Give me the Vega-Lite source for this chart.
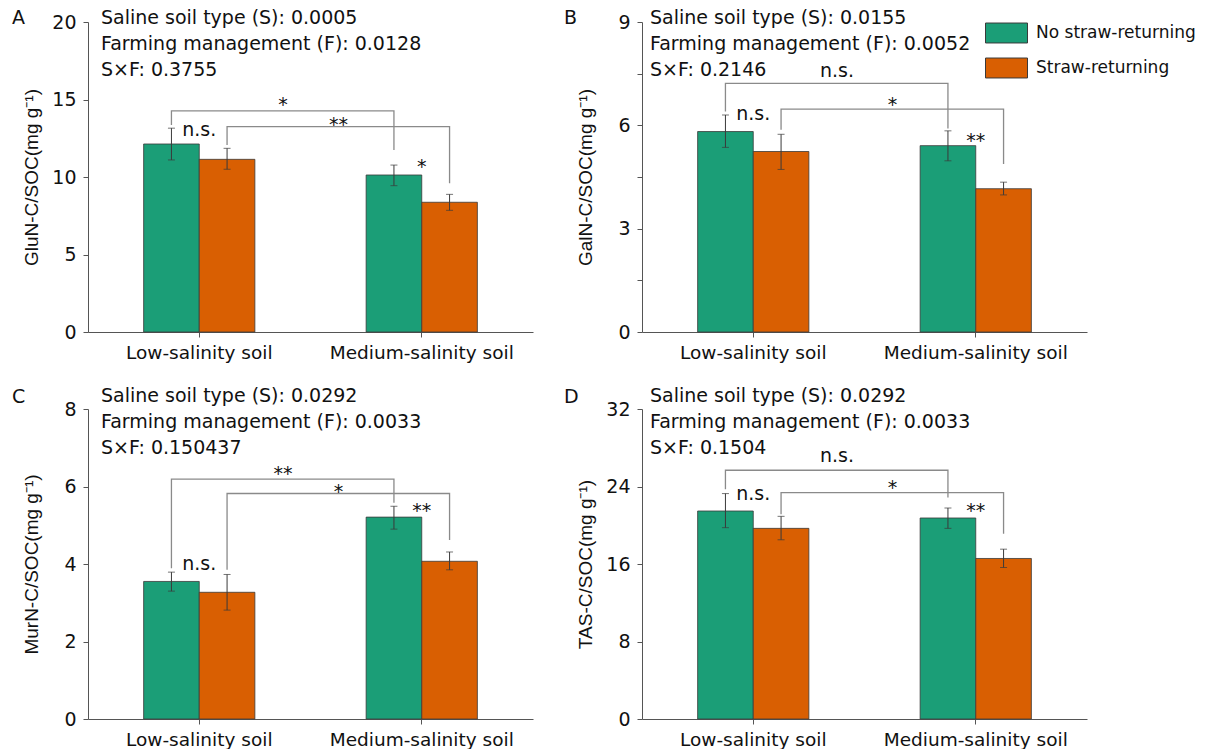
{
  "$schema": "https://vega.github.io/schema/vega-lite/v6.json",
  "autosize": {"type": "pad"},
  "padding": {"left": 12, "top": 8, "right": 5, "bottom": 0},
  "background": "white",
  "columns": 2,
  "spacing": {"row": 77, "column": 109},
  "bounds": "flush",
  "resolve": {"legend": {"color": "independent"}},
  "datasets": {
    "bars": [
      {"panel": "A", "soil": "Low-salinity soil", "treatment": "No straw-returning", "value": 12.13, "lo": 11.10, "hi": 13.15},
      {"panel": "A", "soil": "Low-salinity soil", "treatment": "Straw-returning", "value": 11.14, "lo": 10.50, "hi": 11.85},
      {"panel": "A", "soil": "Medium-salinity soil", "treatment": "No straw-returning", "value": 10.13, "lo": 9.44, "hi": 10.77},
      {"panel": "A", "soil": "Medium-salinity soil", "treatment": "Straw-returning", "value": 8.37, "lo": 7.85, "hi": 8.88},
      {"panel": "B", "soil": "Low-salinity soil", "treatment": "No straw-returning", "value": 5.82, "lo": 5.36, "hi": 6.30},
      {"panel": "B", "soil": "Low-salinity soil", "treatment": "Straw-returning", "value": 5.24, "lo": 4.72, "hi": 5.74},
      {"panel": "B", "soil": "Medium-salinity soil", "treatment": "No straw-returning", "value": 5.41, "lo": 4.97, "hi": 5.84},
      {"panel": "B", "soil": "Medium-salinity soil", "treatment": "Straw-returning", "value": 4.16, "lo": 3.98, "hi": 4.35},
      {"panel": "C", "soil": "Low-salinity soil", "treatment": "No straw-returning", "value": 3.55, "lo": 3.30, "hi": 3.79},
      {"panel": "C", "soil": "Low-salinity soil", "treatment": "Straw-returning", "value": 3.27, "lo": 2.81, "hi": 3.73},
      {"panel": "C", "soil": "Medium-salinity soil", "treatment": "No straw-returning", "value": 5.21, "lo": 4.90, "hi": 5.49},
      {"panel": "C", "soil": "Medium-salinity soil", "treatment": "Straw-returning", "value": 4.07, "lo": 3.85, "hi": 4.31},
      {"panel": "D", "soil": "Low-salinity soil", "treatment": "No straw-returning", "value": 21.47, "lo": 19.75, "hi": 23.27},
      {"panel": "D", "soil": "Low-salinity soil", "treatment": "Straw-returning", "value": 19.68, "lo": 18.50, "hi": 20.92},
      {"panel": "D", "soil": "Medium-salinity soil", "treatment": "No straw-returning", "value": 20.75, "lo": 19.68, "hi": 21.78},
      {"panel": "D", "soil": "Medium-salinity soil", "treatment": "Straw-returning", "value": 16.57, "lo": 15.64, "hi": 17.53}
    ],
    "brackets": [
      {"panel": "A", "bracket": "No", "seq": 1, "soil": "Low-salinity soil", "treatment": "No straw-returning", "y": 13.35},
      {"panel": "A", "bracket": "No", "seq": 2, "soil": "Low-salinity soil", "treatment": "No straw-returning", "y": 14.26},
      {"panel": "A", "bracket": "No", "seq": 3, "soil": "Medium-salinity soil", "treatment": "No straw-returning", "y": 14.26},
      {"panel": "A", "bracket": "No", "seq": 4, "soil": "Medium-salinity soil", "treatment": "No straw-returning", "y": 11.74},
      {"panel": "A", "bracket": "St", "seq": 1, "soil": "Low-salinity soil", "treatment": "Straw-returning", "y": 12.06},
      {"panel": "A", "bracket": "St", "seq": 2, "soil": "Low-salinity soil", "treatment": "Straw-returning", "y": 13.25},
      {"panel": "A", "bracket": "St", "seq": 3, "soil": "Medium-salinity soil", "treatment": "Straw-returning", "y": 13.25},
      {"panel": "A", "bracket": "St", "seq": 4, "soil": "Medium-salinity soil", "treatment": "Straw-returning", "y": 9.59},
      {"panel": "B", "bracket": "No", "seq": 1, "soil": "Low-salinity soil", "treatment": "No straw-returning", "y": 6.40},
      {"panel": "B", "bracket": "No", "seq": 2, "soil": "Low-salinity soil", "treatment": "No straw-returning", "y": 7.22},
      {"panel": "B", "bracket": "No", "seq": 3, "soil": "Medium-salinity soil", "treatment": "No straw-returning", "y": 7.22},
      {"panel": "B", "bracket": "No", "seq": 4, "soil": "Medium-salinity soil", "treatment": "No straw-returning", "y": 5.91},
      {"panel": "B", "bracket": "St", "seq": 1, "soil": "Low-salinity soil", "treatment": "Straw-returning", "y": 5.87},
      {"panel": "B", "bracket": "St", "seq": 2, "soil": "Low-salinity soil", "treatment": "Straw-returning", "y": 6.47},
      {"panel": "B", "bracket": "St", "seq": 3, "soil": "Medium-salinity soil", "treatment": "Straw-returning", "y": 6.47},
      {"panel": "B", "bracket": "St", "seq": 4, "soil": "Medium-salinity soil", "treatment": "Straw-returning", "y": 4.88},
      {"panel": "C", "bracket": "No", "seq": 1, "soil": "Low-salinity soil", "treatment": "No straw-returning", "y": 3.89},
      {"panel": "C", "bracket": "No", "seq": 2, "soil": "Low-salinity soil", "treatment": "No straw-returning", "y": 6.19},
      {"panel": "C", "bracket": "No", "seq": 3, "soil": "Medium-salinity soil", "treatment": "No straw-returning", "y": 6.19},
      {"panel": "C", "bracket": "No", "seq": 4, "soil": "Medium-salinity soil", "treatment": "No straw-returning", "y": 5.58},
      {"panel": "C", "bracket": "St", "seq": 1, "soil": "Low-salinity soil", "treatment": "Straw-returning", "y": 3.85},
      {"panel": "C", "bracket": "St", "seq": 2, "soil": "Low-salinity soil", "treatment": "Straw-returning", "y": 5.82},
      {"panel": "C", "bracket": "St", "seq": 3, "soil": "Medium-salinity soil", "treatment": "Straw-returning", "y": 5.82},
      {"panel": "C", "bracket": "St", "seq": 4, "soil": "Medium-salinity soil", "treatment": "Straw-returning", "y": 4.62},
      {"panel": "D", "bracket": "No", "seq": 1, "soil": "Low-salinity soil", "treatment": "No straw-returning", "y": 23.72},
      {"panel": "D", "bracket": "No", "seq": 2, "soil": "Low-salinity soil", "treatment": "No straw-returning", "y": 25.68},
      {"panel": "D", "bracket": "No", "seq": 3, "soil": "Medium-salinity soil", "treatment": "No straw-returning", "y": 25.68},
      {"panel": "D", "bracket": "No", "seq": 4, "soil": "Medium-salinity soil", "treatment": "No straw-returning", "y": 22.86},
      {"panel": "D", "bracket": "St", "seq": 1, "soil": "Low-salinity soil", "treatment": "Straw-returning", "y": 21.13},
      {"panel": "D", "bracket": "St", "seq": 2, "soil": "Low-salinity soil", "treatment": "Straw-returning", "y": 23.37},
      {"panel": "D", "bracket": "St", "seq": 3, "soil": "Medium-salinity soil", "treatment": "Straw-returning", "y": 23.37},
      {"panel": "D", "bracket": "St", "seq": 4, "soil": "Medium-salinity soil", "treatment": "Straw-returning", "y": 19.13}
    ],
    "sig": [
      {"panel": "A", "kind": "bracket", "soil": "Medium-salinity soil", "treatment": "No straw-returning", "y": 14.26, "label": "*"},
      {"panel": "A", "kind": "bracket", "soil": "Medium-salinity soil", "treatment": "Straw-returning", "y": 12.97, "label": "**"},
      {"panel": "A", "kind": "within", "soil": "Low-salinity soil", "y": 12.66, "label": "n.s."},
      {"panel": "A", "kind": "within", "soil": "Medium-salinity soil", "y": 10.26, "label": "*"},
      {"panel": "B", "kind": "bracket", "soil": "Medium-salinity soil", "treatment": "No straw-returning", "y": 7.41, "label": "n.s."},
      {"panel": "B", "kind": "bracket", "soil": "Medium-salinity soil", "treatment": "Straw-returning", "y": 6.42, "label": "*"},
      {"panel": "B", "kind": "within", "soil": "Low-salinity soil", "y": 6.16, "label": "n.s."},
      {"panel": "B", "kind": "within", "soil": "Medium-salinity soil", "y": 5.38, "label": "**"},
      {"panel": "C", "kind": "bracket", "soil": "Medium-salinity soil", "treatment": "No straw-returning", "y": 6.16, "label": "**"},
      {"panel": "C", "kind": "bracket", "soil": "Medium-salinity soil", "treatment": "Straw-returning", "y": 5.70, "label": "*"},
      {"panel": "C", "kind": "within", "soil": "Low-salinity soil", "y": 3.85, "label": "n.s."},
      {"panel": "C", "kind": "within", "soil": "Medium-salinity soil", "y": 5.22, "label": "**"},
      {"panel": "D", "kind": "bracket", "soil": "Medium-salinity soil", "treatment": "No straw-returning", "y": 26.48, "label": "n.s."},
      {"panel": "D", "kind": "bracket", "soil": "Medium-salinity soil", "treatment": "Straw-returning", "y": 23.27, "label": "*"},
      {"panel": "D", "kind": "within", "soil": "Low-salinity soil", "y": 22.61, "label": "n.s."},
      {"panel": "D", "kind": "within", "soil": "Medium-salinity soil", "y": 20.85, "label": "**"}
    ],
    "notes": [
      {"panel": "A", "soil": "Low-salinity soil", "note": "Saline soil type (S): 0.0005\nFarming management (F): 0.0128\nS×F: 0.3755"},
      {"panel": "B", "soil": "Low-salinity soil", "note": "Saline soil type (S): 0.0155\nFarming management (F): 0.0052\nS×F: 0.2146"},
      {"panel": "C", "soil": "Low-salinity soil", "note": "Saline soil type (S): 0.0292\nFarming management (F): 0.0033\nS×F: 0.150437"},
      {"panel": "D", "soil": "Low-salinity soil", "note": "Saline soil type (S): 0.0292\nFarming management (F): 0.0033\nS×F: 0.1504"}
    ]
  },
  "concat": [
    {
      "width": 445, "height": 310,
      "title": {"text": "A", "anchor": "start", "frame": "group", "dx": -76, "dy": 18.5, "offset": 0},
      "layer": [
        {"data": {"name": "bars"}, "transform": [{"filter": "datum.panel === 'A'"}],
         "mark": {"type": "bar", "stroke": "#3a3a3a", "strokeWidth": 0.8},
         "encoding": {
           "x": {"field": "soil", "type": "nominal", "scale": {"domain": ["Low-salinity soil", "Medium-salinity soil"], "paddingInner": 0, "paddingOuter": 0}, "axis": {"title": null, "labelAngle": 0}},
           "xOffset": {"field": "treatment", "type": "nominal", "scale": {"domain": ["No straw-returning", "Straw-returning"], "paddingInner": 0, "paddingOuter": 1}},
           "y": {"field": "value", "type": "quantitative", "scale": {"domain": [0, 20], "nice": false}, "axis": {"title": "GluN-C/SOC(mg g⁻¹)", "values": [0, 2.5, 5, 7.5, 10, 12.5, 15, 17.5, 20], "labelExpr": "datum.value % 5 === 0 ? datum.label : ''"}},
           "color": {"field": "treatment", "type": "nominal", "scale": {"domain": ["No straw-returning", "Straw-returning"], "range": ["#1b9e77", "#d95f02"]}, "legend": null}
         }},
        {"data": {"name": "bars"}, "transform": [{"filter": "datum.panel === 'A'"}],
         "mark": {"type": "rule", "color": "#3a3a3a", "strokeWidth": 1},
         "encoding": {"x": {"field": "soil", "type": "nominal"}, "xOffset": {"field": "treatment", "type": "nominal"}, "y": {"field": "lo", "type": "quantitative"}, "y2": {"field": "hi"}}},
        {"data": {"name": "bars"}, "transform": [{"filter": "datum.panel === 'A'"}],
         "mark": {"type": "tick", "orient": "horizontal", "size": 7, "thickness": 1, "color": "#3a3a3a"},
         "encoding": {"x": {"field": "soil", "type": "nominal"}, "xOffset": {"field": "treatment", "type": "nominal"}, "y": {"field": "lo", "type": "quantitative"}}},
        {"data": {"name": "bars"}, "transform": [{"filter": "datum.panel === 'A'"}],
         "mark": {"type": "tick", "orient": "horizontal", "size": 7, "thickness": 1, "color": "#3a3a3a"},
         "encoding": {"x": {"field": "soil", "type": "nominal"}, "xOffset": {"field": "treatment", "type": "nominal"}, "y": {"field": "hi", "type": "quantitative"}}},
        {"data": {"name": "brackets"}, "transform": [{"filter": "datum.panel === 'A'"}],
         "mark": {"type": "line", "color": "#8a8a8a", "strokeWidth": 1.3},
         "encoding": {"x": {"field": "soil", "type": "nominal"}, "xOffset": {"field": "treatment", "type": "nominal"}, "y": {"field": "y", "type": "quantitative"}, "detail": {"field": "bracket"}, "order": {"field": "seq", "type": "quantitative"}}},
        {"data": {"name": "sig"}, "transform": [{"filter": "datum.panel === 'A' && datum.kind === 'bracket'"}],
         "mark": {"type": "text", "baseline": "alphabetic", "dx": -111},
         "encoding": {"x": {"field": "soil", "type": "nominal"}, "xOffset": {"field": "treatment", "type": "nominal"}, "y": {"field": "y", "type": "quantitative"}, "text": {"field": "label"}}},
        {"data": {"name": "sig"}, "transform": [{"filter": "datum.panel === 'A' && datum.kind === 'within'"}],
         "mark": {"type": "text", "baseline": "alphabetic"},
         "encoding": {"x": {"field": "soil", "type": "nominal"}, "y": {"field": "y", "type": "quantitative"}, "text": {"field": "label"}}},
        {"data": {"name": "notes"}, "transform": [{"filter": "datum.panel === 'A'"}],
         "mark": {"type": "text", "align": "left", "baseline": "alphabetic", "lineBreak": "\n", "lineHeight": 26, "dx": 13, "dy": 2},
         "encoding": {"x": {"field": "soil", "type": "nominal", "bandPosition": 0}, "y": {"datum": 20, "type": "quantitative"}, "text": {"field": "note"}}}
      ]
    },
    {
      "width": 445, "height": 310,
      "title": {"text": "B", "anchor": "start", "frame": "group", "dx": -78, "dy": 18.5, "offset": 0},
      "layer": [
        {"data": {"name": "bars"}, "transform": [{"filter": "datum.panel === 'B'"}],
         "mark": {"type": "bar", "stroke": "#3a3a3a", "strokeWidth": 0.8},
         "encoding": {
           "x": {"field": "soil", "type": "nominal", "scale": {"domain": ["Low-salinity soil", "Medium-salinity soil"], "paddingInner": 0, "paddingOuter": 0}, "axis": {"title": null, "labelAngle": 0}},
           "xOffset": {"field": "treatment", "type": "nominal", "scale": {"domain": ["No straw-returning", "Straw-returning"], "paddingInner": 0, "paddingOuter": 1}},
           "y": {"field": "value", "type": "quantitative", "scale": {"domain": [0, 9], "nice": false}, "axis": {"title": "GalN-C/SOC(mg g⁻¹)", "values": [0, 1.5, 3, 4.5, 6, 7.5, 9], "labelExpr": "datum.value % 3 === 0 ? datum.label : ''"}},
           "color": {"field": "treatment", "type": "nominal", "scale": {"domain": ["No straw-returning", "Straw-returning"], "range": ["#1b9e77", "#d95f02"]},
             "legend": {"orient": "none", "legendX": 353.5, "legendY": 0, "title": null, "symbolType": "M-2,-0.95H2V0.95H-2Z", "symbolSize": 441, "symbolStrokeColor": "#3a3a3a", "symbolStrokeWidth": 1, "symbolOpacity": 1, "labelFont": "DejaVu Sans", "labelFontSize": 17, "labelLimit": 0, "labelColor": "#111111", "labelOffset": 18.5, "rowPadding": 11, "padding": 0}}
         }},
        {"data": {"name": "bars"}, "transform": [{"filter": "datum.panel === 'B'"}],
         "mark": {"type": "rule", "color": "#3a3a3a", "strokeWidth": 1},
         "encoding": {"x": {"field": "soil", "type": "nominal"}, "xOffset": {"field": "treatment", "type": "nominal"}, "y": {"field": "lo", "type": "quantitative"}, "y2": {"field": "hi"}}},
        {"data": {"name": "bars"}, "transform": [{"filter": "datum.panel === 'B'"}],
         "mark": {"type": "tick", "orient": "horizontal", "size": 7, "thickness": 1, "color": "#3a3a3a"},
         "encoding": {"x": {"field": "soil", "type": "nominal"}, "xOffset": {"field": "treatment", "type": "nominal"}, "y": {"field": "lo", "type": "quantitative"}}},
        {"data": {"name": "bars"}, "transform": [{"filter": "datum.panel === 'B'"}],
         "mark": {"type": "tick", "orient": "horizontal", "size": 7, "thickness": 1, "color": "#3a3a3a"},
         "encoding": {"x": {"field": "soil", "type": "nominal"}, "xOffset": {"field": "treatment", "type": "nominal"}, "y": {"field": "hi", "type": "quantitative"}}},
        {"data": {"name": "brackets"}, "transform": [{"filter": "datum.panel === 'B'"}],
         "mark": {"type": "line", "color": "#8a8a8a", "strokeWidth": 1.3},
         "encoding": {"x": {"field": "soil", "type": "nominal"}, "xOffset": {"field": "treatment", "type": "nominal"}, "y": {"field": "y", "type": "quantitative"}, "detail": {"field": "bracket"}, "order": {"field": "seq", "type": "quantitative"}}},
        {"data": {"name": "sig"}, "transform": [{"filter": "datum.panel === 'B' && datum.kind === 'bracket'"}],
         "mark": {"type": "text", "baseline": "alphabetic", "dx": -111},
         "encoding": {"x": {"field": "soil", "type": "nominal"}, "xOffset": {"field": "treatment", "type": "nominal"}, "y": {"field": "y", "type": "quantitative"}, "text": {"field": "label"}}},
        {"data": {"name": "sig"}, "transform": [{"filter": "datum.panel === 'B' && datum.kind === 'within'"}],
         "mark": {"type": "text", "baseline": "alphabetic"},
         "encoding": {"x": {"field": "soil", "type": "nominal"}, "y": {"field": "y", "type": "quantitative"}, "text": {"field": "label"}}},
        {"data": {"name": "notes"}, "transform": [{"filter": "datum.panel === 'B'"}],
         "mark": {"type": "text", "align": "left", "baseline": "alphabetic", "lineBreak": "\n", "lineHeight": 26, "dx": 8, "dy": 2},
         "encoding": {"x": {"field": "soil", "type": "nominal", "bandPosition": 0}, "y": {"datum": 9, "type": "quantitative"}, "text": {"field": "note"}}}
      ]
    },
    {
      "width": 445, "height": 310,
      "title": {"text": "C", "anchor": "start", "frame": "group", "dx": -76, "dy": 20, "offset": 0},
      "layer": [
        {"data": {"name": "bars"}, "transform": [{"filter": "datum.panel === 'C'"}],
         "mark": {"type": "bar", "stroke": "#3a3a3a", "strokeWidth": 0.8},
         "encoding": {
           "x": {"field": "soil", "type": "nominal", "scale": {"domain": ["Low-salinity soil", "Medium-salinity soil"], "paddingInner": 0, "paddingOuter": 0}, "axis": {"title": null, "labelAngle": 0}},
           "xOffset": {"field": "treatment", "type": "nominal", "scale": {"domain": ["No straw-returning", "Straw-returning"], "paddingInner": 0, "paddingOuter": 1}},
           "y": {"field": "value", "type": "quantitative", "scale": {"domain": [0, 8], "nice": false}, "axis": {"title": "MurN-C/SOC(mg g⁻¹)", "values": [0, 1, 2, 3, 4, 5, 6, 7, 8], "labelExpr": "datum.value % 2 === 0 ? datum.label : ''"}},
           "color": {"field": "treatment", "type": "nominal", "scale": {"domain": ["No straw-returning", "Straw-returning"], "range": ["#1b9e77", "#d95f02"]}, "legend": null}
         }},
        {"data": {"name": "bars"}, "transform": [{"filter": "datum.panel === 'C'"}],
         "mark": {"type": "rule", "color": "#3a3a3a", "strokeWidth": 1},
         "encoding": {"x": {"field": "soil", "type": "nominal"}, "xOffset": {"field": "treatment", "type": "nominal"}, "y": {"field": "lo", "type": "quantitative"}, "y2": {"field": "hi"}}},
        {"data": {"name": "bars"}, "transform": [{"filter": "datum.panel === 'C'"}],
         "mark": {"type": "tick", "orient": "horizontal", "size": 7, "thickness": 1, "color": "#3a3a3a"},
         "encoding": {"x": {"field": "soil", "type": "nominal"}, "xOffset": {"field": "treatment", "type": "nominal"}, "y": {"field": "lo", "type": "quantitative"}}},
        {"data": {"name": "bars"}, "transform": [{"filter": "datum.panel === 'C'"}],
         "mark": {"type": "tick", "orient": "horizontal", "size": 7, "thickness": 1, "color": "#3a3a3a"},
         "encoding": {"x": {"field": "soil", "type": "nominal"}, "xOffset": {"field": "treatment", "type": "nominal"}, "y": {"field": "hi", "type": "quantitative"}}},
        {"data": {"name": "brackets"}, "transform": [{"filter": "datum.panel === 'C'"}],
         "mark": {"type": "line", "color": "#8a8a8a", "strokeWidth": 1.3},
         "encoding": {"x": {"field": "soil", "type": "nominal"}, "xOffset": {"field": "treatment", "type": "nominal"}, "y": {"field": "y", "type": "quantitative"}, "detail": {"field": "bracket"}, "order": {"field": "seq", "type": "quantitative"}}},
        {"data": {"name": "sig"}, "transform": [{"filter": "datum.panel === 'C' && datum.kind === 'bracket'"}],
         "mark": {"type": "text", "baseline": "alphabetic", "dx": -111},
         "encoding": {"x": {"field": "soil", "type": "nominal"}, "xOffset": {"field": "treatment", "type": "nominal"}, "y": {"field": "y", "type": "quantitative"}, "text": {"field": "label"}}},
        {"data": {"name": "sig"}, "transform": [{"filter": "datum.panel === 'C' && datum.kind === 'within'"}],
         "mark": {"type": "text", "baseline": "alphabetic"},
         "encoding": {"x": {"field": "soil", "type": "nominal"}, "y": {"field": "y", "type": "quantitative"}, "text": {"field": "label"}}},
        {"data": {"name": "notes"}, "transform": [{"filter": "datum.panel === 'C'"}],
         "mark": {"type": "text", "align": "left", "baseline": "alphabetic", "lineBreak": "\n", "lineHeight": 26, "dx": 13, "dy": -7},
         "encoding": {"x": {"field": "soil", "type": "nominal", "bandPosition": 0}, "y": {"datum": 8, "type": "quantitative"}, "text": {"field": "note"}}}
      ]
    },
    {
      "width": 445, "height": 310,
      "title": {"text": "D", "anchor": "start", "frame": "group", "dx": -78, "dy": 20, "offset": 0},
      "layer": [
        {"data": {"name": "bars"}, "transform": [{"filter": "datum.panel === 'D'"}],
         "mark": {"type": "bar", "stroke": "#3a3a3a", "strokeWidth": 0.8},
         "encoding": {
           "x": {"field": "soil", "type": "nominal", "scale": {"domain": ["Low-salinity soil", "Medium-salinity soil"], "paddingInner": 0, "paddingOuter": 0}, "axis": {"title": null, "labelAngle": 0}},
           "xOffset": {"field": "treatment", "type": "nominal", "scale": {"domain": ["No straw-returning", "Straw-returning"], "paddingInner": 0, "paddingOuter": 1}},
           "y": {"field": "value", "type": "quantitative", "scale": {"domain": [0, 32], "nice": false}, "axis": {"title": "TAS-C/SOC(mg g⁻¹)", "values": [0, 4, 8, 12, 16, 20, 24, 28, 32], "labelExpr": "datum.value % 8 === 0 ? datum.label : ''"}},
           "color": {"field": "treatment", "type": "nominal", "scale": {"domain": ["No straw-returning", "Straw-returning"], "range": ["#1b9e77", "#d95f02"]}, "legend": null}
         }},
        {"data": {"name": "bars"}, "transform": [{"filter": "datum.panel === 'D'"}],
         "mark": {"type": "rule", "color": "#3a3a3a", "strokeWidth": 1},
         "encoding": {"x": {"field": "soil", "type": "nominal"}, "xOffset": {"field": "treatment", "type": "nominal"}, "y": {"field": "lo", "type": "quantitative"}, "y2": {"field": "hi"}}},
        {"data": {"name": "bars"}, "transform": [{"filter": "datum.panel === 'D'"}],
         "mark": {"type": "tick", "orient": "horizontal", "size": 7, "thickness": 1, "color": "#3a3a3a"},
         "encoding": {"x": {"field": "soil", "type": "nominal"}, "xOffset": {"field": "treatment", "type": "nominal"}, "y": {"field": "lo", "type": "quantitative"}}},
        {"data": {"name": "bars"}, "transform": [{"filter": "datum.panel === 'D'"}],
         "mark": {"type": "tick", "orient": "horizontal", "size": 7, "thickness": 1, "color": "#3a3a3a"},
         "encoding": {"x": {"field": "soil", "type": "nominal"}, "xOffset": {"field": "treatment", "type": "nominal"}, "y": {"field": "hi", "type": "quantitative"}}},
        {"data": {"name": "brackets"}, "transform": [{"filter": "datum.panel === 'D'"}],
         "mark": {"type": "line", "color": "#8a8a8a", "strokeWidth": 1.3},
         "encoding": {"x": {"field": "soil", "type": "nominal"}, "xOffset": {"field": "treatment", "type": "nominal"}, "y": {"field": "y", "type": "quantitative"}, "detail": {"field": "bracket"}, "order": {"field": "seq", "type": "quantitative"}}},
        {"data": {"name": "sig"}, "transform": [{"filter": "datum.panel === 'D' && datum.kind === 'bracket'"}],
         "mark": {"type": "text", "baseline": "alphabetic", "dx": -111},
         "encoding": {"x": {"field": "soil", "type": "nominal"}, "xOffset": {"field": "treatment", "type": "nominal"}, "y": {"field": "y", "type": "quantitative"}, "text": {"field": "label"}}},
        {"data": {"name": "sig"}, "transform": [{"filter": "datum.panel === 'D' && datum.kind === 'within'"}],
         "mark": {"type": "text", "baseline": "alphabetic"},
         "encoding": {"x": {"field": "soil", "type": "nominal"}, "y": {"field": "y", "type": "quantitative"}, "text": {"field": "label"}}},
        {"data": {"name": "notes"}, "transform": [{"filter": "datum.panel === 'D'"}],
         "mark": {"type": "text", "align": "left", "baseline": "alphabetic", "lineBreak": "\n", "lineHeight": 26, "dx": 8, "dy": -7.5},
         "encoding": {"x": {"field": "soil", "type": "nominal", "bandPosition": 0}, "y": {"datum": 32, "type": "quantitative"}, "text": {"field": "note"}}}
      ]
    }
  ],
  "config": {
    "view": {"stroke": null},
    "font": "DejaVu Sans",
    "axis": {"grid": false, "domainColor": "#555555", "tickColor": "#555555", "labelColor": "#111111", "titleColor": "#111111", "labelFont": "DejaVu Sans", "labelFontSize": 19, "tickSize": 5, "titleFont": "Liberation Sans", "titleFontSize": 19, "titleFontWeight": "normal"},
    "axisX": {"labelPadding": 6, "labelFontSize": 18.5, "labelLimit": 0},
    "axisY": {"labelPadding": 7, "minExtent": 33, "maxExtent": 33, "titlePadding": 13.5},
    "title": {"font": "DejaVu Sans", "fontSize": 19, "fontWeight": "normal", "color": "#111111"},
    "text": {"font": "DejaVu Sans", "fontSize": 19, "color": "#111111"}
  }
}
